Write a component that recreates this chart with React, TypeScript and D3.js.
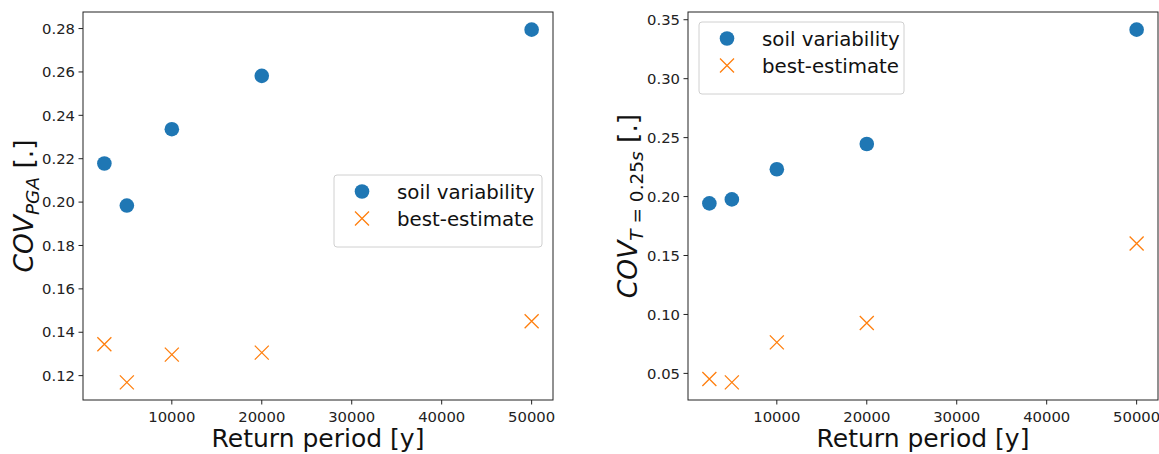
import React from "react";
import * as d3 from "d3";

const returnPeriods = [2500, 5000, 10000, 20000, 50000];
const pgaSoil = [0.2178, 0.1984, 0.2336, 0.2582, 0.2795];
const pgaBest = [0.1345, 0.1169, 0.1297, 0.1306, 0.1451];
const t025Soil = [0.1942, 0.1976, 0.2232, 0.2446, 0.3416];
const t025Best = [0.0452, 0.0424, 0.0763, 0.0928, 0.1602];
const xTicks = [10000, 20000, 30000, 40000, 50000];
const pgaTicks = [0.12, 0.14, 0.16, 0.18, 0.2, 0.22, 0.24, 0.26, 0.28];
const t025Ticks = [0.05, 0.1, 0.15, 0.2, 0.25, 0.3, 0.35];
const seriesNames = ["soil variability", "best-estimate"];

const BLUE = "#1f77b4";
const ORANGE = "#ff7f0e";
const FONT = "DejaVu Sans, sans-serif";

function padded(vals: number[]): [number, number] {
  const [a, b] = d3.extent(vals) as [number, number];
  const m = (b - a) * 0.05;
  return [a - m, b + m];
}

type PanelProps = {
  left: number;
  soil: number[];
  best: number[];
  yTicks: number[];
  sub: string;
  labelX: number;
  legend: { x: number; y: number; w: number; h: number };
};

function Panel({ left, soil, best, yTicks, sub, labelX, legend }: PanelProps) {
  const top = 12;
  const w = 470;
  const h = 388;
  const x = d3.scaleLinear().domain(padded(returnPeriods)).range([left, left + w]);
  const y = d3.scaleLinear().domain(padded([...soil, ...best])).range([top + h, top]);
  const fmt = d3.format(".2f");
  const cy = top + h / 2;
  const cs = 7;
  const lx = legend.x + 28;
  const tx = legend.x + 63;
  const r1 = legend.y + 16.5;
  const r2 = legend.y + 43.5;
  return (
    <g>
      {xTicks.map((t) => (
        <g key={"x" + t}>
          <line x1={x(t)} x2={x(t)} y1={top + h} y2={top + h + 4.5} stroke="#222" strokeWidth={1} />
          <text x={x(t)} y={top + h + 21.5} textAnchor="middle" fontSize={14.8} fill="#222" fontFamily={FONT}>
            {t}
          </text>
        </g>
      ))}
      {yTicks.map((t) => (
        <g key={"y" + t}>
          <line x1={left - 4.5} x2={left} y1={y(t)} y2={y(t)} stroke="#222" strokeWidth={1} />
          <text x={left - 8} y={y(t) + 5.2} textAnchor="end" fontSize={14.8} fill="#222" fontFamily={FONT}>
            {fmt(t)}
          </text>
        </g>
      ))}
      {returnPeriods.map((rp, i) => (
        <circle key={"s" + i} cx={x(rp)} cy={y(soil[i])} r={7.3} fill={BLUE} />
      ))}
      {returnPeriods.map((rp, i) => (
        <path
          key={"b" + i}
          d={`M${x(rp) - cs},${y(best[i]) - cs}L${x(rp) + cs},${y(best[i]) + cs}M${x(rp) - cs},${y(best[i]) + cs}L${x(rp) + cs},${y(best[i]) - cs}`}
          stroke={ORANGE}
          strokeWidth={1.3}
          fill="none"
        />
      ))}
      <rect x={left} y={top} width={w} height={h} fill="none" stroke="#222" strokeWidth={1} />
      <rect
        x={legend.x}
        y={legend.y}
        width={legend.w}
        height={legend.h}
        rx={3}
        fill="white"
        fillOpacity={0.8}
        stroke="#d0d0d0"
        strokeWidth={1}
      />
      <circle cx={lx} cy={r1} r={7.3} fill={BLUE} />
      <path
        d={`M${lx - cs},${r2 - cs}L${lx + cs},${r2 + cs}M${lx - cs},${r2 + cs}L${lx + cs},${r2 - cs}`}
        stroke={ORANGE}
        strokeWidth={1.3}
      />
      <text x={tx} y={r1 + 7} fontSize={19.8} fill="#111" fontFamily={FONT}>
        {seriesNames[0]}
      </text>
      <text x={tx} y={r2 + 7} fontSize={19.8} fill="#111" fontFamily={FONT}>
        {seriesNames[1]}
      </text>
      <text
        x={left + w / 2}
        y={447}
        textAnchor="middle"
        fontSize={25}
        fill="#111"
        fontFamily={FONT}
      >
        Return period [y]
      </text>
      <text
        transform={`translate(${labelX},${cy}) rotate(-90)`}
        textAnchor="middle"
        fontSize={26.5}
        fill="#111"
        fontFamily={FONT}
      >
        <tspan fontStyle="italic">COV</tspan>
        <tspan fontSize={18.5} dy={5.5} fontStyle={sub === "PGA" ? "italic" : "normal"}>
          {sub === "PGA" ? (
            "PGA"
          ) : (
            <>
              <tspan fontStyle="italic">T</tspan>
              <tspan> = 0.25</tspan>
              <tspan fontStyle="italic">s</tspan>
            </>
          )}
        </tspan>
        <tspan dy={-5.5}> [.]</tspan>
      </text>
    </g>
  );
}

export default function App() {
  return (
    <svg
      width={1159}
      height={454}
      style={{ position: "absolute", left: 0, top: 0, background: "white" }}
    >
      <Panel
        left={83}
        soil={pgaSoil}
        best={pgaBest}
        yTicks={pgaTicks}
        sub="PGA"
        labelX={33}
        legend={{ x: 334, y: 175, w: 208, h: 72 }}
      />
      <Panel
        left={688}
        soil={t025Soil}
        best={t025Best}
        yTicks={t025Ticks}
        sub="T"
        labelX={637}
        legend={{ x: 699, y: 22, w: 205, h: 72 }}
      />
    </svg>
  );
}
